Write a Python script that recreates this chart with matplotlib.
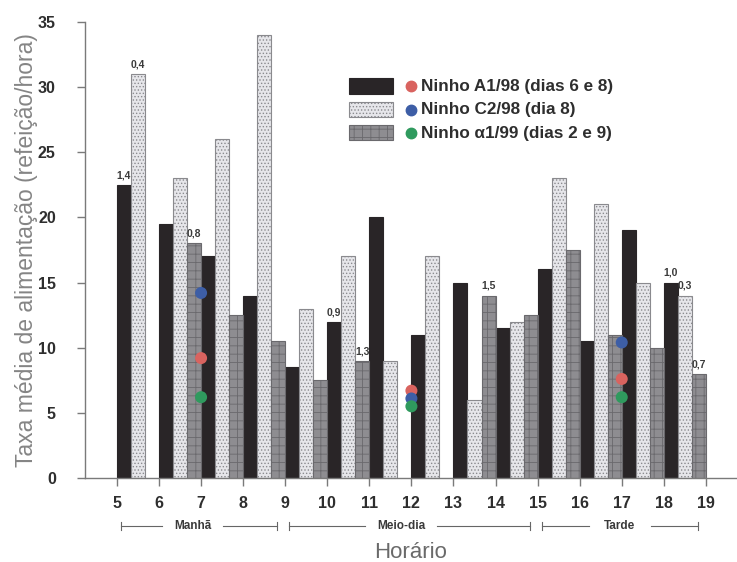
import numpy as np
import matplotlib.pyplot as plt
from matplotlib.patches import Rectangle

plt.rcParams['font.family'] = ['Liberation Sans', 'DejaVu Sans']
plt.rcParams['hatch.linewidth'] = 0.6

# hourly intervals (bar group starts at the hour)
hours = np.arange(5, 19)

# mean feeding rate per nest (meals/hour); 0 = no observation
nest_a = [22.5, 19.5, 17, 14, 8.5, 12, 20, 11, 15, 11.5, 16, 10.5, 19, 15]
nest_c = [31, 23, 26, 34, 13, 17, 9, 17, 6, 12, 23, 21, 15, 14]
nest_alpha = [0, 18, 12.5, 10.5, 7.5, 9, 0, 0, 14, 12.5, 17.5, 11, 10, 8]

# labels written over some bars: (series, hour, text)
bar_notes = [
    (0, 5, '1,4'), (1, 5, '0,4'), (2, 6, '0,8'), (0, 10, '0,9'),
    (2, 10, '1,3'), (2, 13, '1,5'), (0, 18, '1,0'), (1, 18, '0,3'),
    (2, 18, '0,7'),
]

# period means plotted as dots at 7, 12 and 17 h
dot_hours = [7, 12, 17]
dot_a = [9.2, 6.7, 7.6]
dot_c = [14.2, 6.1, 10.4]
dot_alpha = [6.2, 5.5, 6.2]

period_names = ['Manhã', 'Meio-dia', 'Tarde']
period_bounds = [(5, 9), (9, 15), (15, 19)]

legend_labels = ['Ninho A1/98 (dias 6 e 8)', 'Ninho C2/98 (dia 8)',
                 'Ninho \u03b11/99 (dias 2 e 9)']
dot_colors = ['#d9635f', '#3d5ea6', '#2f9a5e']

bar_styles = [
    dict(facecolor='#292527', edgecolor='#292527', hatch=None),
    dict(facecolor='#e6e6ea', edgecolor='#8a8a8e', hatch='.....'),
    dict(facecolor='#8e8d91', edgecolor='#6a696d', hatch='++'),
]

fig = plt.figure(figsize=(7.37, 5.62), dpi=100)
ax = fig.add_axes([0.1153, 0.1495, 0.8847, 0.8115])

w = 1 / 3
series = [nest_a, nest_c, nest_alpha]
for i, (vals, st) in enumerate(zip(series, bar_styles)):
    x = hours + i * w
    h = np.array(vals, dtype=float)
    keep = h > 0
    ax.bar(x[keep], h[keep], width=w, align='edge', linewidth=0.8, **st)

for s, hr, txt in bar_notes:
    val = series[s][list(hours).index(hr)]
    ax.text(hr + s * w + w / 2, val + 0.35, txt, ha='center', va='bottom',
            fontsize=7.5, fontweight='bold', color='#3a3a3a')

for vals, c in zip([dot_a, dot_c, dot_alpha], dot_colors):
    ax.scatter(dot_hours, vals, s=75, color=c, edgecolors='none', zorder=4)

ax.set_xlim(4.24, 19.74)
ax.set_ylim(0, 35)
ax.set_xticks(np.arange(5, 20))
ax.set_yticks(np.arange(0, 36, 5))
for side in ['top', 'right']:
    ax.spines[side].set_visible(False)
for side in ['left', 'bottom']:
    ax.spines[side].set_color('#7a7a7a')
    ax.spines[side].set_linewidth(1.0)
ax.tick_params(axis='both', colors='#7a7a7a', length=6, width=1.0,
               labelcolor='#2e2e2e', labelsize=11.5)
for lab in ax.get_xticklabels() + ax.get_yticklabels():
    lab.set_fontweight('bold')
ax.tick_params(axis='x', pad=7)
ax.tick_params(axis='y', pad=15)

ax.set_ylabel('Taxa média de alimentação (refeição/hora)', fontsize=16.5,
              color='#858585', labelpad=0)
ax.set_xlabel('Horário', fontsize=16, color='#6a6a6a', labelpad=22)

# period brackets below the hour labels: text centre and half gap in hours
bracket_text = [(6.8, 0.72), (11.75, 0.85), (16.95, 0.74)]
trans = ax.get_xaxis_transform()
yb = -0.105
for name, (h0, h1), (hc, gap) in zip(period_names, period_bounds, bracket_text):
    a, b = h0 + 0.1, h1 - 0.19
    ax.text(hc, yb, name, transform=trans, ha='center', va='center',
            fontsize=8.5, fontweight='bold', color='#3a3a3a')
    ax.plot([a, hc - gap], [yb, yb], transform=trans,
            color='#666666', lw=0.8, clip_on=False)
    ax.plot([hc + gap, b], [yb, yb], transform=trans,
            color='#666666', lw=0.8, clip_on=False)
    for xe in (a, b):
        ax.plot([xe, xe], [yb - 0.008, yb + 0.008], transform=trans,
                color='#666666', lw=0.8, clip_on=False)

# legend drawn by hand: bar swatch, dot, label
lx, ly, dy = 0.405, 0.859, 0.0515
for i, (st, c, lab) in enumerate(zip(bar_styles, dot_colors, legend_labels)):
    y = ly - i * dy
    ax.add_patch(Rectangle((lx, y - 0.016), 0.067, 0.033, transform=ax.transAxes,
                           linewidth=0.8, clip_on=False, **st))
    ax.plot([lx + 0.095], [y], marker='o', ms=7.5, color=c,
            transform=ax.transAxes, clip_on=False)
    ax.text(lx + 0.111, y, lab, transform=ax.transAxes, va='center',
            fontsize=12.3, fontweight='bold', color='#2e2e2e')

fig.savefig('out.png', dpi=100)
